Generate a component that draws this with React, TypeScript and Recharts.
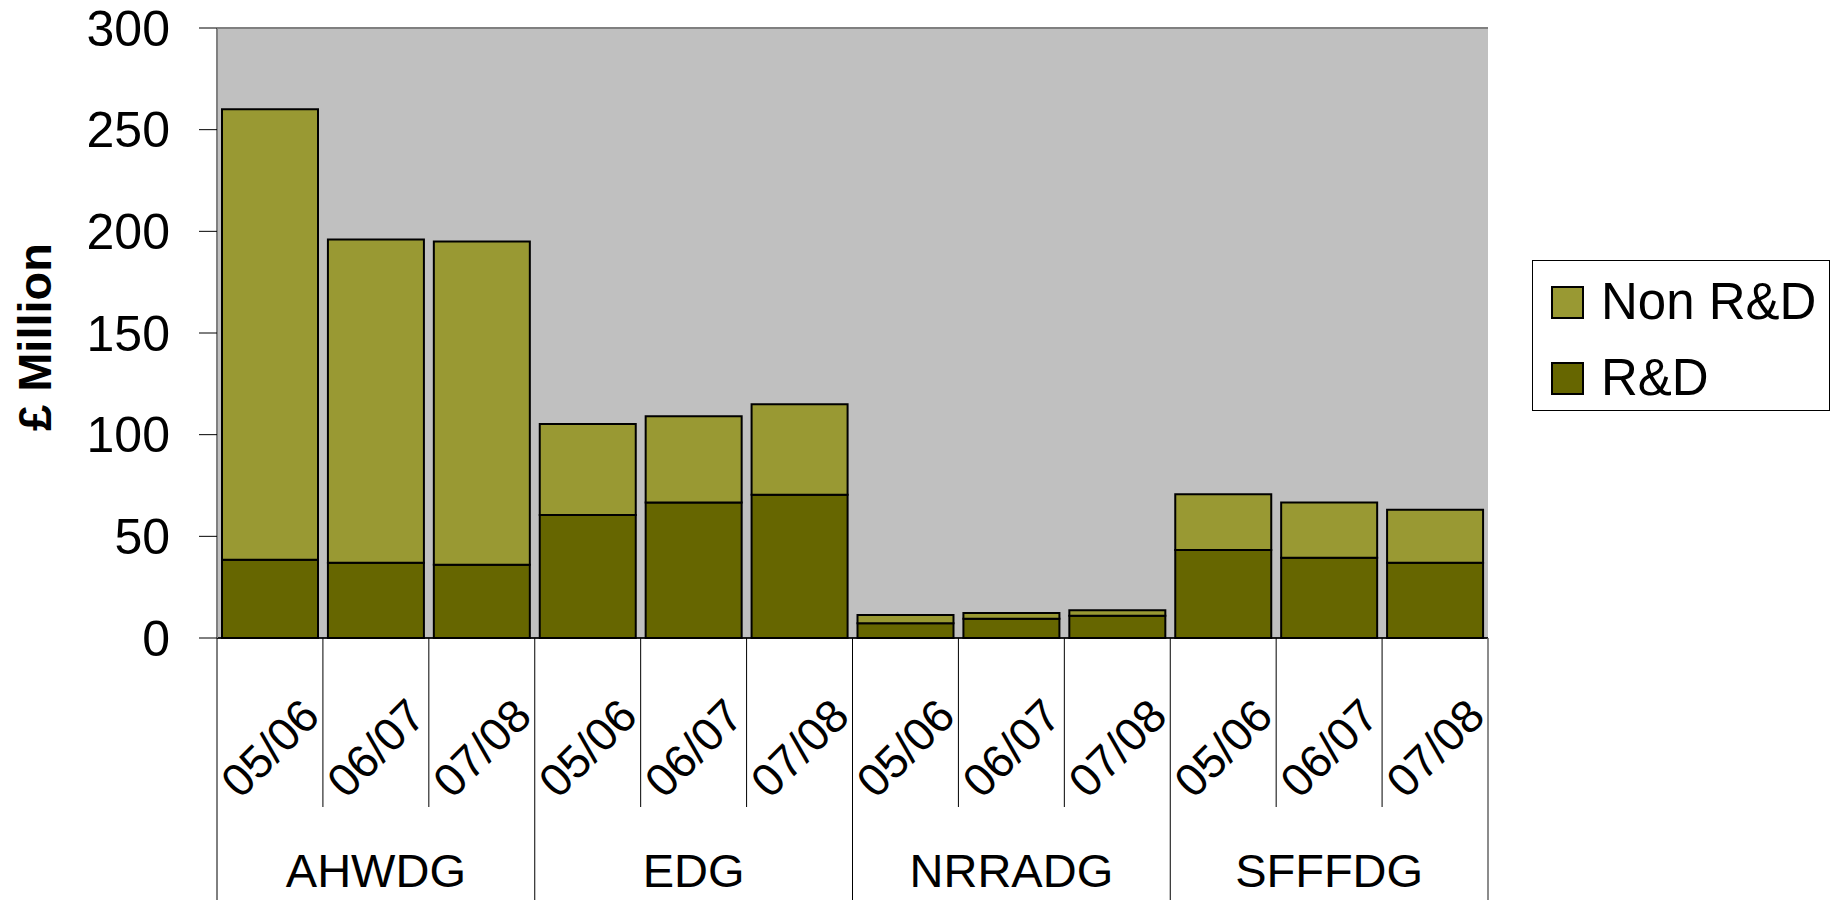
import React from 'react';
import { BarChart, Bar, XAxis, YAxis, CartesianGrid, Legend, ReferenceLine } from 'recharts';

const periods = ['05/06', '06/07', '07/08'];
const groups = ['AHWDG', 'EDG', 'NRRADG', 'SFFFDG'];
const rdValues = [38.5, 37, 36, 60.5, 66.7, 70.5, 7.2, 9.5, 11, 43.3, 39.5, 37];
const nonRdValues = [221.5, 159, 159, 44.8, 42.3, 44.5, 4.1, 2.8, 2.6, 27.4, 27.2, 26.1];
const yTicks = [0, 50, 100, 150, 200, 250, 300];
const legendOrder = ['Non R&D', 'R&D'];

const FONT = '"Liberation Sans", Arial, Helvetica, sans-serif';

const data = groups.flatMap((g, gi) =>
  periods.map((p, pi) => {
    const i = gi * periods.length + pi;
    return { key: `${g}-${p}`, period: p, group: g, rd: rdValues[i], nonRd: nonRdValues[i] };
  })
);

const XTick = (props: any) => {
  const { x, y, payload, index, width } = props;
  const n = data.length;
  const half = width ? width / n / 2 : payload?.offset ?? 0;
  const row = data[index] || data.find((d) => d.key === payload.value);
  const per = periods.length;
  const idx = data.indexOf(row);
  const isGroupStart = idx % per === 0;
  const isLast = idx === n - 1;
  const lx = x - half;
  const rx = x + half;
  const labelY = y + 110;
  return (
    <g>
      <line x1={lx} y1={y} x2={lx} y2={isGroupStart ? y + 262 : y + 169} stroke="#000" strokeWidth={1} />
      {isLast && <line x1={rx} y1={y} x2={rx} y2={y + 262} stroke="#666" strokeWidth={1.5} />}
      <text
        x={x}
        y={labelY}
        transform={`rotate(-45 ${x} ${labelY})`}
        textAnchor="middle"
        dominantBaseline="central"
        fontSize={46}
        fontFamily={FONT}
        fill="#000"
      >
        {row.period}
      </text>
      {idx % per === 1 && (
        <text x={x} y={y + 232} textAnchor="middle" dominantBaseline="central" fontSize={47} fontFamily={FONT} fill="#000">
          {row.group}
        </text>
      )}
    </g>
  );
};

const LegendContent = (props: any) => {
  const items = [...(props.payload || [])].sort(
    (a: any, b: any) => legendOrder.indexOf(a.value) - legendOrder.indexOf(b.value)
  );
  return (
    <div
      style={{
        width: 298,
        height: 151,
        boxSizing: 'border-box',
        border: '1px solid #000',
        background: '#fff',
        paddingTop: 3,
        fontFamily: FONT,
      }}
    >
      {items.map((it: any) => (
        <div key={it.value} style={{ display: 'flex', alignItems: 'center', height: 76, paddingLeft: 18 }}>
          <div
            style={{
              width: 33,
              height: 33,
              boxSizing: 'border-box',
              background: it.color,
              border: '2px solid #000',
              marginRight: 17,
            }}
          />
          <span style={{ fontSize: 51, lineHeight: '76px', color: '#000' }}>{it.value}</span>
        </div>
      ))}
    </div>
  );
};

const YLabel = (props: any) => {
  const vb = props.viewBox || {};
  const cy = (vb.y ?? 28) + (vb.height ?? 610) / 2 + 4;
  const cx = 34;
  return (
    <text
      x={cx}
      y={cy}
      transform={`rotate(-90 ${cx} ${cy})`}
      textAnchor="middle"
      dominantBaseline="central"
      fontSize={47}
      fontWeight="bold"
      fontFamily={FONT}
      fill="#000"
    >
      £ Million
    </text>
  );
};

export default function App() {
  return (
    <div style={{ position: 'absolute', left: 0, top: 0, width: 1837, height: 900, background: '#fff' }}>
      <BarChart
        width={1837}
        height={900}
        data={data}
        margin={{ top: 28, right: 349, bottom: 0, left: 0 }}
        barCategoryGap={5}
        style={{ fontFamily: FONT }}
      >
        <CartesianGrid fill="#C0C0C0" fillOpacity={1} stroke="#000" strokeWidth={1} vertical={false} />
        <XAxis
          dataKey="key"
          height={262}
          interval={0}
          tickLine={false}
          tickSize={0}
          tickMargin={0}
          axisLine={{ stroke: '#000', strokeWidth: 1.5 }}
          tick={<XTick />}
        />
        <YAxis
          yAxisId="left"
          width={217}
          domain={[0, 300]}
          ticks={yTicks}
          interval={0}
          tickSize={18}
          tickMargin={29}
          tickLine={{ stroke: '#000', strokeWidth: 1 }}
          axisLine={{ stroke: '#808080', strokeWidth: 2 }}
          tick={{ fontSize: 50, fill: '#000', fontFamily: FONT }}
          label={<YLabel />}
        />
        <YAxis
          yAxisId="right"
          orientation="right"
          width={0}
          domain={[0, 300]}
          tick={false}
          tickLine={false}
          axisLine={{ stroke: '#808080', strokeWidth: 2 }}
        />
        <ReferenceLine yAxisId="left" y={300} stroke="#808080" strokeWidth={2} />
        <Bar yAxisId="left" dataKey="rd" name="R&D" stackId="a" fill="#666600" stroke="#000" strokeWidth={2} isAnimationActive={false} />
        <Bar yAxisId="left" dataKey="nonRd" name="Non R&D" stackId="a" fill="#999933" stroke="#000" strokeWidth={2} isAnimationActive={false} />
        <Legend
          layout="vertical"
          align="center"
          verticalAlign="middle"
          wrapperStyle={{ position: 'absolute', left: 1532, top: 260, width: 298, height: 151 }}
          content={<LegendContent />}
        />
      </BarChart>
    </div>
  );
}
